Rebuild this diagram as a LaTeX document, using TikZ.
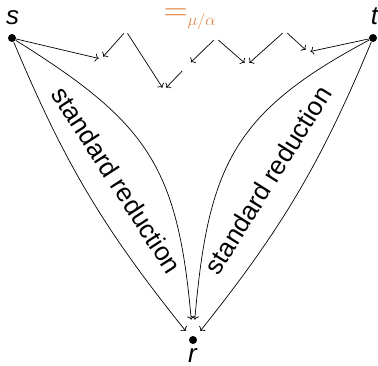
\RequirePackage{fix-cm}
\documentclass[tikz,border=0pt]{standalone}
\usepackage{fontspec}
\setmainfont{Liberation Sans}
\usetikzlibrary{arrows.meta}
\definecolor{eqorange}{RGB}{226,134,72}

\begin{document}
\begin{tikzpicture}[x=1pt, y=1pt, line width=0.7pt, >={To[length=3.5pt,width=8pt]},
    every node/.style={font=\fontsize{26}{31}\selectfont},
    dot/.style={circle, fill, inner sep=0pt, minimum size=8pt},
    lbl/.style={anchor=base, inner sep=1pt},
    pt/.style={inner sep=2pt},
    target/.style={inner sep=0pt, minimum width=14pt, minimum height=40pt}]
    \useasboundingbox (0,0) rectangle (378,365);
    % Terms
    \node[dot] (s) at (12,327) {};
    \node[dot] (t) at (373,327) {};
    \node[dot] (r) at (193,25) {};
    \node[target] (rbox) at (r) {};
    \node[lbl] (slab) at (12.5,340) {\textit{s}};
    \node[lbl] (tlab) at (375,340) {\textit{t}};
    \node[lbl] (rlab) at (193,3) {\textit{r}};
    \node[lbl, eqorange, font=\fontsize{33}{40}\selectfont] (eq) at (190,344)
        {$=_{\scriptscriptstyle\mu/\alpha}$};
    % Zigzag
    \node[pt] (A) at (101,306) {};
    \node[pt] (P1) at (126,334) {};
    \node[pt] (B) at (164,275) {};
    \node[pt, inner sep=4pt] (C) at (186.5,298.5) {};
    \node[pt] (P2) at (216,327) {};
    \node[pt] (D) at (247,300) {};
    \node[pt] (P3) at (285,334) {};
    \node[pt] (E) at (308,313) {};
    \draw[->] (s) -- (A);
    \draw[->] (P1) -- (A);
    \draw[->] (P1) -- (B);
    \draw[->] (C) -- (B);
    \draw[->] (P2) -- (C);
    \draw[->] (P2) -- (D);
    \draw[->] (P3) -- (D);
    \draw[->] (P3) -- (E);
    \draw[->] (t) -- (E);
    % Standard reductions
    \draw[->] (s) to[bend right=8] (rbox);
    \draw[->] (s) to[out=-32, in=95, looseness=1.2] (rbox);
    \draw[->] (t) to[out=208, in=85, looseness=1.2] (rbox);
    \draw[->] (t) to[bend left=8] (rbox);
    \node[rotate=-57] (lsr) at (117,185) {standard reduction};
    \node[rotate=58] (rsr) at (268,185) {standard reduction};
\end{tikzpicture}
\end{document}
